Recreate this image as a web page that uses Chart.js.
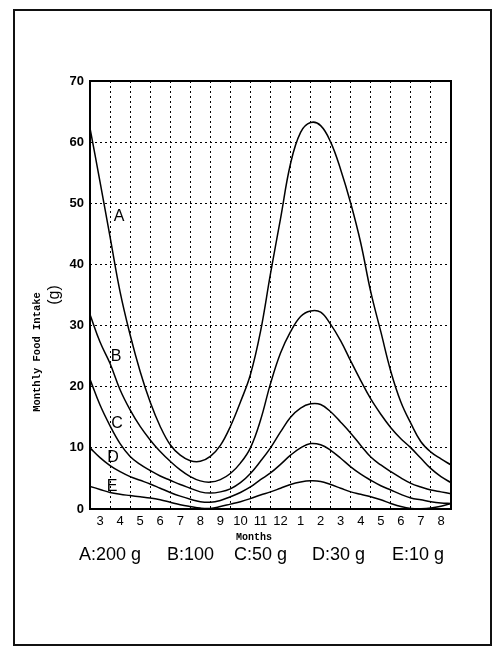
<!DOCTYPE html>
<html>
<head>
<meta charset="utf-8">
<script src="https://cdn.jsdelivr.net/npm/chart.js@4/dist/chart.umd.min.js"></script>
<style>
html,body{margin:0;padding:0;background:#fff;}
#wrap{width:500px;height:655px;position:relative;}
</style>
</head>
<body>
<div id="wrap"><canvas id="c" width="500" height="655"></canvas></div>
<script>
// position along the axis in months since the start of the first "3" interval
const monthPos = [0,0.5,1,1.5,2,2.5,3,3.5,4,4.5,5,5.5,6,6.5,7,7.5,8,8.5,9,9.5,10,10.5,11,11.5,12,12.5,13,13.5,14,14.5,15,15.5,16,16.5,17,17.5,18];
const seriesA = [62.3,53.5,44.5,35.5,28.5,22.5,17.5,13.5,10.5,8.8,7.9,7.8,8.6,10.4,13.5,17.5,22,29,38.5,47.5,56.5,61.6,63.2,62.7,60,55.5,50,43.5,35.5,29,22.5,17.5,14,11,9.3,8.2,7.2];
const seriesB = [31.8,27.3,23.8,19.5,16.2,13.5,11.3,9.4,7.8,6.4,5.3,4.6,4.4,4.8,5.8,7.5,10,14.5,20.5,25.5,29,31.5,32.4,32.2,30.2,27.5,24.2,21,18,15.5,13.3,11.5,10,8.3,6.6,5.3,4.3];
const seriesC = [21.2,17.0,13.6,10.7,8.6,7.3,6.3,5.4,4.7,4.0,3.4,2.8,2.6,2.8,3.3,4.3,5.8,7.8,10,12.6,15,16.5,17.2,17.1,15.9,14.2,12.4,10.4,8.5,7.2,6.1,5.1,4.2,3.6,3.1,2.8,2.5];
const seriesD = [10,8.4,7.1,6.1,5.3,4.7,4.1,3.4,2.7,2.1,1.6,1.2,1.1,1.4,2.0,2.7,3.6,4.8,5.9,7.3,8.8,10.0,10.7,10.5,9.6,8.3,6.9,5.7,4.7,3.8,3.1,2.4,1.8,1.5,1.2,1.0,0.9];
const seriesE = [3.7,3.2,2.7,2.4,2.2,2.0,1.8,1.5,1.1,0.7,0.4,0.15,0.1,0.4,0.8,1.2,1.7,2.3,2.8,3.4,4.0,4.4,4.6,4.5,4.0,3.4,2.8,2.4,2.0,1.5,0.9,0.4,0.1,0.05,0.15,0.45,0.9];
const monthLabels = ['3','4','5','6','7','8','9','10','11','12','1','2','3','4','5','6','7','8'];
const seriesNames = ['A','B','C','D','E'];
const legendTexts = ['A:200 g','B:100','C:50 g','D:30 g','E:10 g'];
const yMin = 0, yMax = 70, yStep = 10;

const allSeries = [seriesA, seriesB, seriesC, seriesD, seriesE];
const datasets = allSeries.map((s, k) => ({
  label: seriesNames[k],
  data: monthPos.map((t, i) => ({x: t, y: s[i]})),
  borderColor: '#000',
  borderWidth: 1.5,
  pointRadius: 0,
  fill: false,
  tension: 0.4
}));

// label anchors in data units (x, y) for the curve letters
const letterAnchors = [[1.45,47.8],[1.3,25.0],[1.35,14.0],[1.15,8.4],[1.1,3.6]];
const legendX = [79,167,234,312,392];

const decor = {
  id: 'decor',
  beforeDraw(chart) {
    const ctx = chart.ctx;
    ctx.save();
    ctx.fillStyle = '#fff';
    ctx.fillRect(0, 0, chart.width, chart.height);
    ctx.strokeStyle = '#111';
    ctx.lineWidth = 2;
    ctx.strokeRect(14, 10, 477, 635);
    ctx.restore();
  },
  afterDatasetsDraw(chart) {
    const ctx = chart.ctx;
    const a = chart.chartArea;
    const xs = chart.scales.x, ys = chart.scales.y;
    ctx.save();
    ctx.strokeStyle = '#000';
    ctx.lineWidth = 2;
    ctx.strokeRect(a.left, a.top, a.right - a.left, a.bottom - a.top);
    ctx.fillStyle = '#000';
    ctx.textAlign = 'center';
    ctx.textBaseline = 'middle';
    ctx.font = '16px "Liberation Sans", Arial, sans-serif';
    seriesNames.forEach((n, k) => {
      ctx.fillText(n, xs.getPixelForValue(letterAnchors[k][0]), ys.getPixelForValue(letterAnchors[k][1]));
    });
    // Months
    ctx.font = 'bold 10px "Liberation Mono", "Courier New", monospace';
    ctx.textBaseline = 'alphabetic';
    ctx.fillText('Months', 254, 540);
    // legend line
    ctx.textAlign = 'left';
    ctx.font = '18px "Liberation Sans", Arial, sans-serif';
    legendTexts.forEach((t, k) => ctx.fillText(t, legendX[k], 560));
    // y title
    ctx.translate(40, 352);
    ctx.rotate(-Math.PI / 2);
    ctx.textAlign = 'center';
    ctx.font = 'bold 10.5px "Liberation Mono", "Courier New", monospace';
    ctx.fillText('Monthly Food Intake', 0, 0);
    ctx.restore();
  }
};

new Chart(document.getElementById('c'), {
  type: 'line',
  data: { datasets },
  plugins: [decor],
  options: {
    responsive: false,
    animation: false,
    devicePixelRatio: 1,
    layout: { padding: { top: 81, left: 0, right: 49, bottom: 0 } },
    plugins: { legend: { display: false }, tooltip: { enabled: false }, title: { display: false } },
    scales: {
      x: {
        type: 'linear', min: 0, max: monthLabels.length,
        afterFit(s) { s.height = 146; },
        afterBuildTicks(s) { s.ticks = monthLabels.map((_, i) => ({ value: i })).concat([{ value: monthLabels.length }]); },
        ticks: {
          autoSkip: false, maxRotation: 0, padding: 5, labelOffset: -10,
          color: '#000', font: { family: '"Liberation Sans", Arial, sans-serif', size: 13 },
          callback: (v) => (v >= 1 ? monthLabels[v - 1] : '')
        },
        grid: { color: '#000', lineWidth: 1, drawTicks: false },
        border: { display: false, dash: [2, 3] }
      },
      y: {
        min: yMin, max: yMax,
        afterFit(s) { s.width = 90; },
        ticks: {
          stepSize: yStep, padding: 6, color: '#000',
          font: { family: '"Liberation Sans", Arial, sans-serif', size: 13, weight: 'bold' }
        },
        grid: { color: '#000', lineWidth: 1, drawTicks: false },
        border: { display: false, dash: [2, 3] },
        title: { display: true, text: '(g)', color: '#000', font: { family: '"Liberation Sans", Arial, sans-serif', size: 16 }, padding: { top: 45, bottom: 0 } }
      }
    }
  }
});
</script>
</body>
</html>
